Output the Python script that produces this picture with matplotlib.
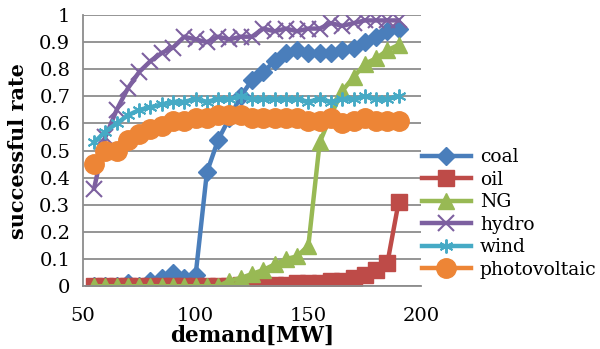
import matplotlib.pyplot as plt

plt.rcParams['font.family'] = ['DejaVu Serif']

demand = [55, 60, 65, 70, 75, 80, 85, 90, 95, 100, 105, 110, 115, 120, 125, 130, 135,
          140, 145, 150, 155, 160, 165, 170, 175, 180, 185, 190]

coal = [0, 0, 0, 0.01, 0, 0.02, 0.03, 0.05, 0.03, 0.04, 0.42, 0.54, 0.62, 0.70, 0.76,
        0.79, 0.83, 0.86, 0.87, 0.86, 0.86, 0.86, 0.87, 0.88, 0.90, 0.92, 0.94, 0.95]
oil = [0, 0, 0, 0, 0, 0, 0, 0, 0, 0, 0, 0, 0, 0.005, 0.005, 0.005, 0.005, 0.005, 0.01,
       0.01, 0.01, 0.02, 0.02, 0.03, 0.04, 0.06, 0.085, 0.31]
ng = [0, 0, 0, 0, 0, 0, 0, 0, 0, 0, 0, 0, 0.02, 0.03, 0.045, 0.06, 0.08, 0.10, 0.11,
      0.15, 0.53, 0.63, 0.72, 0.77, 0.82, 0.84, 0.87, 0.89]
hydro = [0.36, 0.55, 0.65, 0.73, 0.79, 0.83, 0.86, 0.88, 0.92, 0.91, 0.90, 0.92, 0.91,
         0.92, 0.92, 0.95, 0.94, 0.95, 0.94, 0.95, 0.95, 0.97, 0.96, 0.97, 0.98, 0.98,
         0.98, 0.98]
wind = [0.53, 0.57, 0.60, 0.63, 0.65, 0.66, 0.67, 0.68, 0.68, 0.69, 0.68, 0.69, 0.69,
        0.70, 0.69, 0.69, 0.69, 0.69, 0.69, 0.68, 0.69, 0.68, 0.69, 0.69, 0.70, 0.69,
        0.69, 0.70]
pv = [0.45, 0.50, 0.50, 0.54, 0.56, 0.58, 0.59, 0.61, 0.61, 0.62, 0.62, 0.63, 0.63,
      0.63, 0.62, 0.62, 0.62, 0.62, 0.62, 0.61, 0.61, 0.62, 0.60, 0.61, 0.62, 0.61,
      0.61, 0.61]

fig = plt.figure(figsize=(6, 3.49), dpi=100)
ax = fig.add_axes([0.138, 0.18, 0.564, 0.777])

lw = 3.2
ax.plot(demand, coal, color='#4a7ebb', lw=lw, marker='D', ms=9, label='coal')
ax.plot(demand, oil, color='#be4b48', lw=lw, marker='s', ms=12, label='oil')
ax.plot(demand, ng, color='#98b954', lw=lw, marker='^', ms=12, label='NG')
ax.plot(demand, hydro, color='#7d60a0', lw=lw, marker='x', ms=11, mew=1.5, label='hydro')
ax.plot(demand, wind, color='#46aac5', lw=lw, marker=(6, 2, 0), ms=10, mew=1.4, label='wind')
ax.plot(demand, pv, color='#ed8536', lw=lw, marker='o', ms=14, label='photovoltaic')

ax.set_xlim(50, 200)
ax.set_ylim(0, 1)
ax.set_xticks([50, 100, 150, 200])
ax.set_yticks([i / 10 for i in range(11)])
ax.set_yticklabels(['0', '0.1', '0.2', '0.3', '0.4', '0.5', '0.6', '0.7', '0.8', '0.9', '1'])
ax.tick_params(labelsize=14, length=0)
ax.tick_params(axis='x', pad=15)
ax.tick_params(axis='y', pad=9)
ax.yaxis.grid(True, color='#8c8c8c', lw=1.3)
ax.set_axisbelow(True)
for s in ['top', 'right']:
    ax.spines[s].set_visible(False)
ax.spines['left'].set_color('#8c8c8c')
ax.spines['bottom'].set_color('#8c8c8c')
ax.spines['left'].set_linewidth(1.3)
ax.spines['bottom'].set_linewidth(1.3)

ax.set_xlabel('demand[MW]', fontsize=15.5, fontweight='bold', labelpad=0)
ax.set_ylabel('successful rate', fontsize=15, fontweight='bold', labelpad=8)

fig.legend(loc='upper left', bbox_to_anchor=(0.703, 0.575), frameon=False, fontsize=13.5,
           handlelength=2.6, handletextpad=0.5, labelspacing=0.24, borderpad=0,
           borderaxespad=0)

fig.savefig('out.png', dpi=100)
